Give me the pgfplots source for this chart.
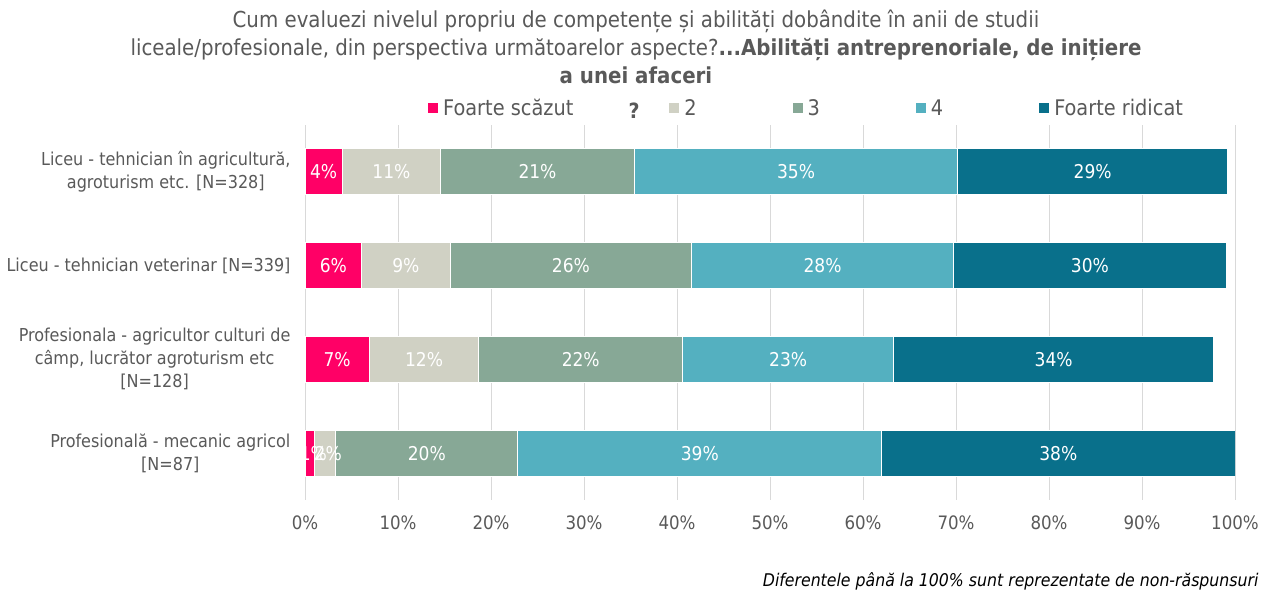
\documentclass[border=0pt]{standalone}
\usepackage{pgfplots}
\pgfplotsset{compat=1.18}
\usepackage{pgfplotstable}
\usepackage{fontspec}
\setmainfont{DejaVu Sans Condensed}
\definecolor{c1}{RGB}{255,0,102}
\definecolor{c2}{RGB}{208,209,196}
\definecolor{c3}{RGB}{135,168,150}
\definecolor{c4}{RGB}{84,176,192}
\definecolor{c5}{RGB}{9,112,139}
\definecolor{txt}{RGB}{89,89,89}
\definecolor{grd}{RGB}{217,217,217}
\pgfplotstableread{
y a b c d e
1 4.0 10.6 20.8 34.8 29.0
2 6.1 9.5 26.0 28.1 29.4
3 6.9 11.8 21.9 22.7 34.4
4 1.0 2.3 19.6 39.1 38.0
}\bars
\pgfplotstableread{
x y l
2.0 1 4
9.3 1 11
25.0 1 21
52.8 1 35
84.7 1 29
3.05 2 6
10.85 2 9
28.6 2 26
55.65 2 28
84.4 2 30
3.45 3 7
12.8 3 12
29.65 3 22
51.95 3 23
80.5 3 34
0.9 4 1
2.5 4 2
13.1 4 20
42.45 4 39
81.0 4 38
}\labs
\begin{document}
\begin{tikzpicture}
\useasboundingbox (0pt,0pt) rectangle (1265pt,-589pt);
\begin{axis}[
  at={(305pt,-500pt)}, anchor=south west,
  scale only axis, width=930pt, height=375pt,
  xmin=0, xmax=100, ymin=0.5, ymax=4.5, y dir=reverse,
  xbar stacked, bar width=0.49,
  axis line style={draw=none}, major tick length=0pt,
  xmajorgrids, grid style={grd, line width=0.8pt},
  xtick={0,10,...,100},
  xticklabels={0\%,10\%,20\%,30\%,40\%,50\%,60\%,70\%,80\%,90\%,100\%},
  ytick={1,2,3,4},
  yticklabels={{Liceu - tehnician în agricultură,\\agroturism etc. [N=328]},
               {Liceu - tehnician veterinar [N=339]},
               {Profesionala - agricultor culturi de\\câmp, lucrător agroturism etc\\{[N=128]}},
               {Profesională - mecanic agricol\\{[N=87]}}},
  yticklabel style={align=center, text=txt, font=\fontsize{17.8}{23}\selectfont, xshift=-11pt},
  xticklabel style={text=txt, font=\fontsize{18.5}{22}\selectfont, yshift=-12pt},
  legend style={at={(0.129,1.045)}, anchor=west, draw=none, fill=none,
    legend columns=5, font=\fontsize{21.5}{24}\selectfont, text=txt,
    /tikz/every even column/.append style={column sep=94pt},
    /tikz/every odd column/.append style={column sep=3pt}},
  legend image code/.code={\path[#1,draw=none] (0pt,-5pt) rectangle (10pt,5pt);},
]
\addplot[fill=c1, draw=white, line width=1pt] table[x=a,y=y]{\bars};
\addlegendentry{Foarte scăzut}
\addplot[fill=c2, draw=white, line width=1pt] table[x=b,y=y]{\bars};
\addlegendentry{2}
\addplot[fill=c3, draw=white, line width=1pt] table[x=c,y=y]{\bars};
\addlegendentry{3}
\addplot[fill=c4, draw=white, line width=1pt] table[x=d,y=y]{\bars};
\addlegendentry{4}
\addplot[fill=c5, draw=white, line width=1pt] table[x=e,y=y]{\bars};
\addlegendentry{Foarte ridicat}
\end{axis}
\begin{axis}[
  at={(305pt,-500pt)}, anchor=south west,
  scale only axis, width=930pt, height=375pt,
  xmin=0, xmax=100, ymin=0.5, ymax=4.5, y dir=reverse, hide axis,
]
\addplot[draw=none, mark=none, nodes near coords={\pgfplotspointmeta\%},
  point meta=explicit symbolic,
  every node near coord/.style={anchor=center, text=white, font=\fontsize{19}{22}\selectfont}]
  table[x=x,y=y,meta=l]{\labs};
\end{axis}
\node[anchor=north, align=center, text=txt, font=\fontsize{22}{28}\selectfont] at (636pt,-6pt)
  {Cum evaluezi nivelul propriu de competențe și abilități dobândite în anii de studii\\
   liceale/profesionale, din perspectiva următoarelor aspecte?\textbf{...Abilități antreprenoriale, de inițiere}\\
   \textbf{a unei afaceri}};
\node[text=txt, font=\bfseries\fontsize{21}{24}\selectfont] at (634pt,-111pt) {?};
\node[anchor=base east, text=black, font=\itshape\fontsize{17.5}{20}\selectfont] at (1262pt,-586pt)
  {Diferentele până la 100\% sunt reprezentate de non-răspunsuri};
\end{tikzpicture}
\end{document}
